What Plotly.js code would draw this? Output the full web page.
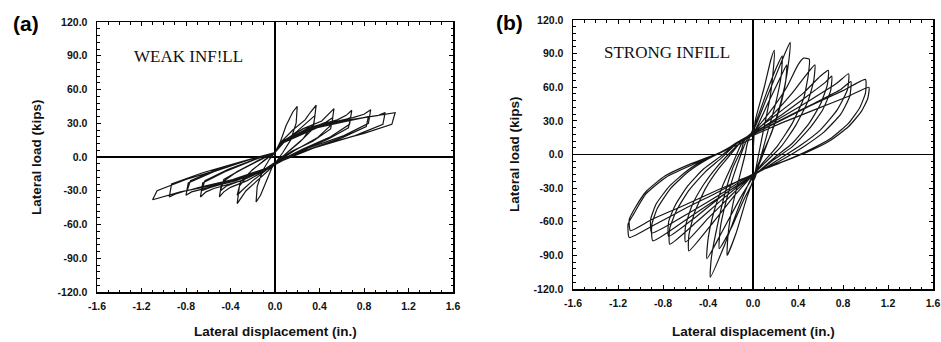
<!DOCTYPE html>
<html>
<head>
<meta charset="utf-8">
<script src="https://cdn.plot.ly/plotly-3.0.1.min.js"></script>
<style>html,body{margin:0;padding:0;background:#fff}#chart{width:941px;height:342px}</style>
</head>
<body>
<div id="chart"></div>
<script>
// Tick values and labels
const xTickVals = [-1.6, -1.2, -0.8, -0.4, 0, 0.4, 0.8, 1.2, 1.6];
const xTickText = ['-1.6', '-1.2', '-0.8', '-0.4', '0.0', '0.4', '0.8', '1.2', '1.6'];
const yTickVals = [-120, -90, -60, -30, 0, 30, 60, 90, 120];
const yTickText = ['-120.0', '-90.0', '-60.0', '-30.0', '0.0', '30.0', '60.0', '90.0', '120.0'];

// (a) Weak infill: [displacement (in.), load (kips)], cycle by cycle
const weakC1 = [[0,0],[0,4],[0.05,14],[0.1,28],[0.16,40],[0.2,45],[0.19,30],[0.14,15],[0.07,4],[0.02,-3],[-0.03,-10],[-0.08,-22],[-0.13,-34],[-0.17,-40],[-0.16,-26],[-0.11,-12],[-0.05,-2],[0,4]];
const weakC2 = [[0.06,14],[0.16,24],[0.27,33],[0.32,40],[0.37,46],[0.35,30],[0.25,16],[0.12,5],[0.03,-3],[-0.06,-12],[-0.17,-22],[-0.26,-30],[-0.34,-41.5],[-0.32,-26],[-0.22,-13],[-0.1,-3],[0,4]];
const weakC2r = [[0.07,13],[0.2,23],[0.3,32],[0.36,37],[0.34,25],[0.22,13],[0.1,3],[0.02,-3],[-0.07,-11],[-0.2,-21],[-0.3,-30],[-0.34,-34],[-0.31,-22],[-0.2,-11],[-0.08,-2],[0,4]];
const weakC3 = [[0.07,14],[0.25,25],[0.42,32],[0.48,38],[0.53,43],[0.51,29],[0.38,17],[0.18,6],[0.04,-3],[-0.07,-11],[-0.25,-21],[-0.4,-27],[-0.46,-31],[-0.5,-35.5],[-0.48,-23],[-0.34,-13],[-0.15,-3],[0,4]];
const weakC3r = [[0.08,13],[0.28,24],[0.46,31],[0.52,35],[0.5,25],[0.34,14],[0.15,5],[0.03,-3],[-0.08,-10],[-0.28,-20],[-0.44,-26],[-0.49,-30],[-0.46,-20],[-0.3,-11],[-0.12,-2],[0,4]];
const weakC4 = [[0.08,14],[0.3,26],[0.56,33],[0.64,37],[0.69,41.5],[0.67,29],[0.5,18],[0.25,7],[0.05,-3],[-0.08,-11],[-0.3,-21],[-0.55,-28],[-0.62,-31],[-0.67,-35.5],[-0.65,-23],[-0.45,-13],[-0.2,-3],[0,4]];
const weakC4r = [[0.08,13],[0.33,25],[0.6,32],[0.68,35],[0.66,26],[0.48,16],[0.22,5],[0.04,-3],[-0.08,-10],[-0.33,-20],[-0.58,-27],[-0.66,-30],[-0.63,-21],[-0.42,-11],[-0.18,-2],[0,4]];
const weakC5 = [[0.08,14],[0.35,27],[0.7,35],[0.8,38],[0.86,42],[0.84,30],[0.62,19],[0.3,8],[0.06,-3],[-0.08,-11],[-0.35,-21],[-0.65,-28],[-0.75,-31],[-0.8,-34],[-0.78,-23],[-0.55,-13],[-0.25,-3],[0,4]];
const weakC5r = [[0.08,13],[0.38,26],[0.74,34],[0.84,36],[0.82,27],[0.6,17],[0.28,6],[0.05,-3],[-0.08,-10],[-0.38,-20],[-0.68,-27],[-0.79,-30],[-0.76,-21],[-0.52,-11],[-0.22,-2],[0,4]];
const weakC6 = [[0.08,14],[0.4,27],[0.8,35],[0.93,37],[0.99,39.4],[0.97,29],[0.72,19],[0.35,8],[0.07,-3],[-0.08,-11],[-0.4,-21],[-0.8,-30],[-0.9,-33],[-0.95,-35.5],[-0.93,-24],[-0.65,-14],[-0.3,-4],[0,4]];
const weakC7 = [[0.08,15],[0.3,25],[0.54,31],[0.85,36],[1.0,38.5],[1.08,39.4],[1.05,29],[0.8,21],[0.54,14],[0.25,5],[0.07,-3],[-0.1,-12],[-0.3,-19],[-0.55,-25],[-0.85,-31],[-1.0,-35],[-1.1,-38],[-1.06,-30],[-0.8,-20],[-0.5,-11],[-0.25,-3],[0,4]];

// (b) Strong infill
const strongC1 = [[0,0],[0.02,30],[0.1,60],[0.16,85],[0.19,93],[0.18,75],[0.15,50],[0.1,25],[0.05,0],[0.01,-20],[-0.06,-40],[-0.15,-70],[-0.23,-90],[-0.22,-70],[-0.18,-45],[-0.12,-20],[-0.07,0],[-0.05,10]];
const strongC1r = [[0.03,30],[0.12,55],[0.21,78],[0.26,88],[0.25,70],[0.2,45],[0.13,20],[0.07,-2],[0.02,-20],[-0.08,-40],[-0.19,-65],[-0.3,-84],[-0.29,-65],[-0.24,-42],[-0.17,-18],[-0.1,2],[-0.06,12]];
const strongC2 = [[0.02,25],[0.12,50],[0.25,82],[0.33,100],[0.32,85],[0.28,60],[0.2,30],[0.12,8],[0.04,-12],[-0.02,-22],[-0.12,-45],[-0.25,-80],[-0.38,-109.5],[-0.37,-92],[-0.32,-65],[-0.25,-35],[-0.18,-12],[-0.1,5],[-0.08,12]];
const strongC2r = [[0.02,22],[0.13,45],[0.24,68],[0.3,80],[0.29,65],[0.24,42],[0.16,18],[0.08,0],[0.01,-18],[-0.12,-40],[-0.27,-68],[-0.41,-93],[-0.4,-76],[-0.35,-52],[-0.27,-28],[-0.18,-8],[-0.1,10]];
const strongC3 = [[0,20],[0.15,38],[0.3,60],[0.4,80],[0.45,86],[0.5,85],[0.49,70],[0.45,50],[0.35,28],[0.22,8],[0.1,-6],[0,-18],[-0.15,-35],[-0.35,-60],[-0.57,-86],[-0.57,-72],[-0.52,-52],[-0.42,-30],[-0.3,-12],[-0.2,0],[-0.1,12]];
const strongC3r = [[0,19],[0.18,36],[0.35,55],[0.48,72],[0.55,80],[0.54,66],[0.49,48],[0.38,26],[0.25,7],[0.12,-6],[0,-18],[-0.18,-35],[-0.4,-57],[-0.6,-78],[-0.6,-64],[-0.54,-45],[-0.44,-27],[-0.32,-11],[-0.2,2],[-0.11,11]];
const strongC4 = [[0,20],[0.2,35],[0.45,55],[0.6,70],[0.67,75],[0.66,62],[0.6,45],[0.5,28],[0.35,10],[0.2,-2],[0.05,-15],[-0.05,-22],[-0.25,-38],[-0.5,-60],[-0.74,-80],[-0.74,-66],[-0.68,-50],[-0.57,-32],[-0.42,-15],[-0.28,-3],[-0.12,12]];
const strongC4r = [[0,19],[0.22,33],[0.48,52],[0.65,65],[0.7,70],[0.69,57],[0.62,40],[0.5,23],[0.35,7],[0.18,-5],[0.03,-17],[-0.25,-35],[-0.5,-55],[-0.75,-73],[-0.75,-60],[-0.69,-45],[-0.58,-28],[-0.44,-13],[-0.28,-1],[-0.13,11]];
const strongC5 = [[0,19],[0.25,33],[0.5,48],[0.75,64],[0.85,72],[0.84,58],[0.75,40],[0.6,22],[0.42,8],[0.25,-3],[0.08,-14],[-0.03,-20],[-0.25,-35],[-0.55,-55],[-0.89,-77],[-0.9,-63],[-0.85,-48],[-0.73,-30],[-0.57,-15],[-0.4,-4],[-0.2,6],[-0.13,11]];
const strongC5r = [[0,18],[0.25,31],[0.55,46],[0.78,58],[0.87,65],[0.86,52],[0.78,36],[0.63,20],[0.45,7],[0.27,-4],[0.08,-14],[-0.03,-19],[-0.25,-33],[-0.55,-51],[-0.9,-70],[-0.91,-58],[-0.86,-44],[-0.74,-28],[-0.58,-14],[-0.4,-3],[-0.2,6],[-0.14,10]];
const strongC6 = [[0,18],[0.2,28],[0.5,43],[0.8,57],[1.0,67],[1.0,55],[0.95,42],[0.85,28],[0.7,15],[0.5,4],[0.3,-5],[0.12,-12],[0,-18],[-0.1,-22],[-0.3,-33],[-0.6,-48],[-0.9,-64],[-1.1,-74],[-1.11,-62],[-1.06,-53],[-0.95,-35],[-0.77,-20],[-0.56,-10],[-0.35,-1],[-0.2,7],[-0.14,11]];
const strongC7 = [[0,17],[0.25,28],[0.55,40],[0.85,52],[1.03,60],[1.02,50],[0.96,38],[0.85,25],[0.68,12],[0.48,2],[0.28,-6],[0.1,-13],[0,-18],[-0.3,-31],[-0.65,-47],[-0.9,-58],[-1.09,-68],[-1.1,-58],[-1.05,-48],[-0.95,-33],[-0.78,-19],[-0.57,-9],[-0.36,-1],[-0.2,6],[-0.1,10],[0,14]];

const weakPath = [].concat(weakC1, weakC2, weakC2r, weakC3, weakC3r, weakC4, weakC4r, weakC5, weakC5r, weakC6, weakC7);
const strongPath = [].concat(strongC1, strongC1r, strongC2, strongC2r, strongC3, strongC3r, strongC4, strongC4r, strongC5, strongC5r, strongC6, strongC7);

const traces = [
  {x: weakPath.map(p => p[0]), y: weakPath.map(p => p[1]), xaxis: 'x', yaxis: 'y', type: 'scatter', mode: 'lines',
   line: {color: '#151515', width: 1.2}, hoverinfo: 'skip'},
  {x: strongPath.map(p => p[0]), y: strongPath.map(p => p[1]), xaxis: 'x2', yaxis: 'y2', type: 'scatter', mode: 'lines',
   line: {color: '#151515', width: 1.2, shape: 'spline', smoothing: 0.5}, hoverinfo: 'skip'}
];

const tickFont = {family: 'Liberation Sans, Arial, sans-serif', size: 10.5, color: '#111', weight: 'bold'};
function xAx(domain, anchor) {
  return {domain: domain, anchor: anchor, range: [-1.6, 1.6], tickmode: 'array', tickvals: xTickVals, ticktext: xTickText,
    ticks: 'inside', ticklen: 4, tickwidth: 1, tickcolor: '#000', mirror: 'allticks', showline: true, linecolor: '#000', linewidth: 1.5,
    showgrid: false, zeroline: true, zerolinecolor: '#000', zerolinewidth: 1.2, tickfont: tickFont, ticklabelstandoff: 4,
    minor: {dtick: 0.1, tick0: 0, ticks: 'inside', ticklen: 2.5, tickcolor: '#000', showgrid: false}, fixedrange: true};
}
function yAx(domain, anchor) {
  return {domain: domain, anchor: anchor, range: [-120, 120], tickmode: 'array', tickvals: yTickVals, ticktext: yTickText,
    ticks: 'inside', ticklen: 4, tickwidth: 1, tickcolor: '#000', mirror: 'allticks', showline: true, linecolor: '#000', linewidth: 1.5,
    showgrid: false, zeroline: true, zerolinecolor: '#000', zerolinewidth: 1.2, tickfont: tickFont, ticklabelstandoff: 6,
    minor: {dtick: 6, tick0: 0, ticks: 'inside', ticklen: 2.5, tickcolor: '#000', showgrid: false}, fixedrange: true};
}

const titleFont = {family: 'Liberation Sans, Arial, sans-serif', size: 13.5, color: '#111', weight: 'bold'};
const panelFont = {family: 'Liberation Sans, Arial, sans-serif', size: 21, color: '#000', weight: 'bold'};
const serifFont = {family: 'Liberation Serif, Times New Roman, serif', size: 17, color: '#111'};
const W = 941, H = 342;
function ann(text, px, py, font, angle) {
  return {text: text, x: px / W, y: 1 - py / H, xref: 'paper', yref: 'paper', xanchor: 'center', yanchor: 'middle', showarrow: false, font: font, textangle: angle || 0};
}

const layout = {
  width: W, height: H, autosize: false, showlegend: false,
  margin: {l: 0, r: 0, t: 0, b: 0}, paper_bgcolor: '#fff', plot_bgcolor: '#fff',
  xaxis: xAx([97 / W, 453 / W], 'y'),
  yaxis: yAx([1 - 292 / H, 1 - 22 / H], 'x'),
  xaxis2: xAx([573 / W, 933 / W], 'y2'),
  yaxis2: yAx([1 - 289 / H, 1 - 20 / H], 'x2'),
  annotations: [
    ann('(a)', 26, 23, panelFont),
    ann('(b)', 509, 22, panelFont),
    ann('WEAK INF!LL', 188, 57, serifFont),
    ann('STRONG INFILL', 667, 53, serifFont),
    ann('Lateral displacement (in.)', 275, 331, titleFont),
    ann('Lateral displacement (in.)', 753, 331, titleFont),
    ann('Lateral load (kips)', 37, 157, titleFont, -90),
    ann('Lateral load (kips)', 515, 154, titleFont, -90)
  ]
};

Plotly.newPlot('chart', traces, layout, {staticPlot: true, displayModeBar: false});
</script>
</body>
</html>
